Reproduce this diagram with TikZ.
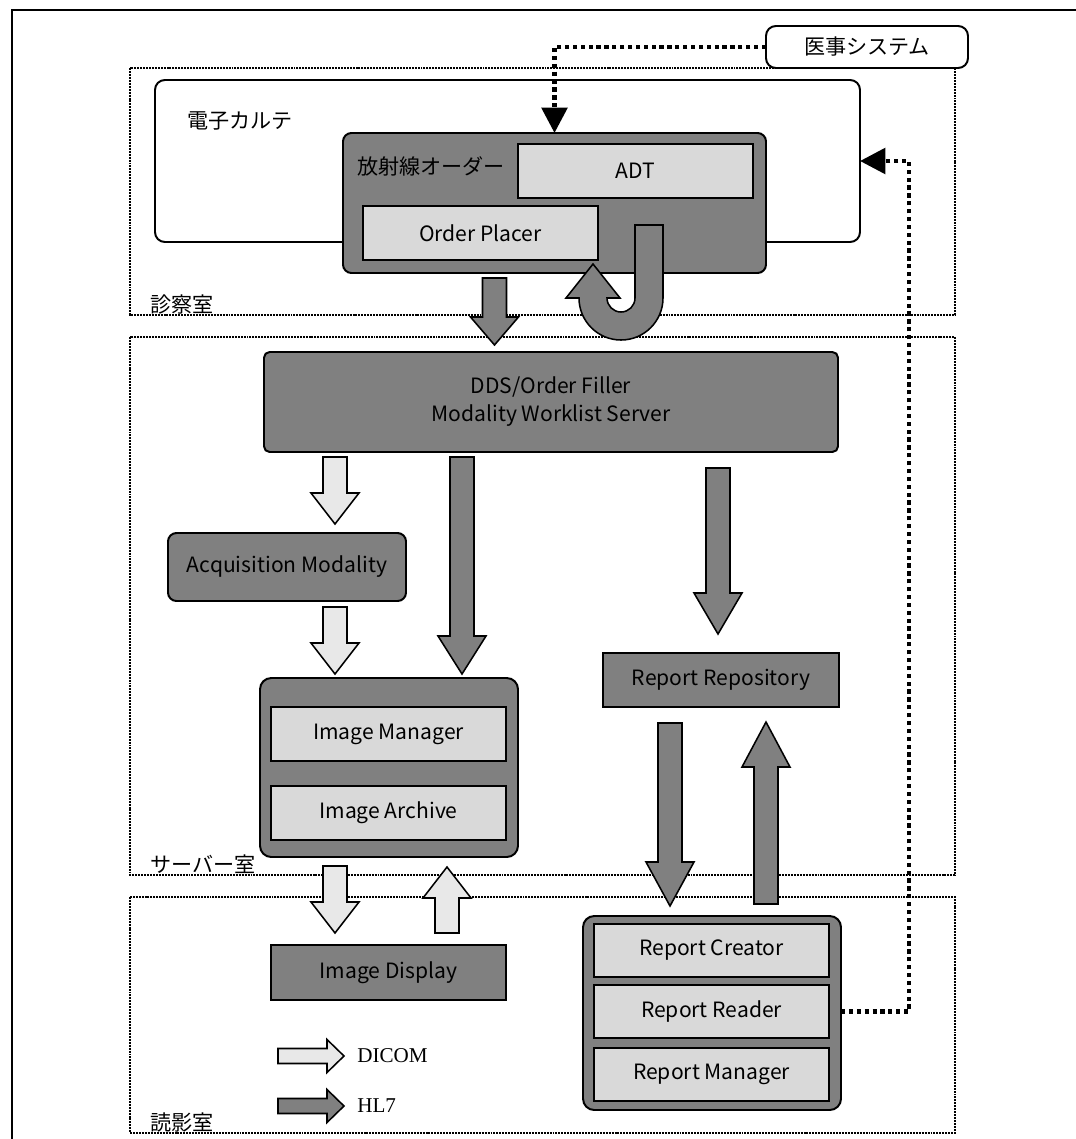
\documentclass[tikz,border=0pt]{standalone}
\usepackage{fontspec}
\setmainfont{Noto Sans CJK JP}
\newfontfamily\legendfont{Liberation Serif}
\usetikzlibrary{calc,arrows.meta}

\definecolor{boxgray}{HTML}{808080}
\definecolor{partgray}{HTML}{D9D9D9}
\definecolor{dicomgray}{HTML}{E8E8E8}

\newlength\pxu
\setlength\pxu{0.025cm}
\newcommand{\pxpt}{0.7113pt}
\newcommand{\shafthalf}{12*\pxpt}
\newcommand{\headhalf}{24*\pxpt}

% block arrow: [style]{from}{to}{head length in px}
\newcommand{\blockarrow}[4][]{%
  \coordinate (hb) at ($(#3)!#4*\pxpt!(#2)$);
  \filldraw[hlseven,#1] ($(#2)!\shafthalf!90:(#3)$) -- ($(hb)!\shafthalf!90:(#3)$)
    -- ($(hb)!\headhalf!90:(#3)$) -- (#3) -- ($(hb)!\headhalf!-90:(#3)$)
    -- ($(hb)!\shafthalf!-90:(#3)$) -- ($(#2)!\shafthalf!-90:(#3)$) -- cycle;
}

\tikzset{
  room/.style={draw, line width=1.4pt, dash pattern=on 1.4pt off 0.7pt},
  roomlabel/.style={anchor=base west, inner sep=0pt},
  whitebox/.style={draw, fill=white, line width=1.4pt, rounded corners=7pt, inner sep=0pt, outer sep=0pt},
  darkbox/.style={draw, fill=boxgray, line width=1.4pt, rounded corners=6pt, inner sep=0pt, outer sep=0pt},
  flatbox/.style={draw, fill=boxgray, line width=1.4pt, inner sep=0pt, outer sep=0pt},
  partbox/.style={draw, fill=partgray, line width=1.8pt, inner sep=0pt, outer sep=0pt,
    minimum width=235\pxu, minimum height=54\pxu},
  hisline/.style={line width=3.2pt, dash pattern=on 3pt off 2.6pt, -{Triangle[length=18pt,width=18pt]}},
  hlseven/.style={draw, fill=boxgray, line width=1.1pt, line join=miter},
  dicom/.style={fill=dicomgray},
}

\begin{document}
\begin{tikzpicture}[x=0.025cm, y=-0.025cm, font=\fontsize{15}{20}\selectfont]
  \useasboundingbox (0,0) rectangle (1076,1139);
  \draw[line width=1pt] (1080,10) -- (12,10) -- (12,1145);

  % rooms
  \draw[room] (130,68) rectangle (955,315);
  \draw[room] (130,337) rectangle (955,875);
  \draw[room] (130,897) rectangle (955,1133);
  \node[roomlabel] (shinlbl) at (150,312) {診察室};
  \node[roomlabel] (servlbl) at (150,872) {サーバー室};
  \node[roomlabel] (dokulbl) at (150,1130) {読影室};

  % 診察室
  \node[whitebox, minimum width=202\pxu, minimum height=42\pxu] (iji) at (867,47) {医事システム};
  \node[whitebox, minimum width=705\pxu, minimum height=162\pxu] (karte) at (507.5,161) {};
  \node[anchor=west, inner sep=0pt] (kartelbl) at (187,121) {電子カルテ};
  \node[darkbox, minimum width=423\pxu, minimum height=140\pxu] (order) at (554.5,203) {};
  \node[anchor=west, inner sep=0pt] (orderlbl) at (357,166) {放射線オーダー};
  \node[partbox] (adt) at (635.5,171) {ADT};
  \node[partbox] (placer) at (480.5,233) {Order Placer};

  % サーバー室
  \node[darkbox, rounded corners=4pt, minimum width=574\pxu, minimum height=100\pxu, align=center] (dds) at (551,402)
    {DDS/Order Filler\\Modality Worklist Server};
  \node[darkbox, minimum width=238\pxu, minimum height=68\pxu] (acq) at (287,567) {Acquisition Modality};
  \node[darkbox, rounded corners=8pt, minimum width=258\pxu, minimum height=179\pxu] (imgbox) at (389,767.5) {};
  \node[partbox] (imgmgr) at (388.5,734) {Image Manager};
  \node[partbox] (imgarc) at (388.5,813) {Image Archive};
  \node[flatbox, minimum width=236\pxu, minimum height=54\pxu] (repo) at (721,680) {Report Repository};

  % 読影室
  \node[flatbox, minimum width=235\pxu, minimum height=55\pxu] (display) at (388.5,972.5) {Image Display};
  \node[darkbox, rounded corners=8pt, minimum width=258\pxu, minimum height=194\pxu] (rptbox) at (712,1013) {};
  \node[partbox, minimum height=53\pxu] (creator) at (711.5,950.5) {Report Creator};
  \node[partbox, minimum height=53\pxu] (reader) at (711.5,1011.5) {Report Reader};
  \node[partbox, minimum height=53\pxu] (rmgr) at (711.5,1074.5) {Report Manager};

  % legend
  \node[anchor=west, inner sep=0pt, font=\legendfont\fontsize{15}{18}\selectfont] (dicomlbl) at (357,1056) {DICOM};
  \node[anchor=west, inner sep=0pt, font=\legendfont\fontsize{15}{18}\selectfont] (hl7lbl) at (357,1106) {HL7};

  % columns of the block arrows
  \coordinate (colA) at (335,0);
  \coordinate (colB) at (462,0);
  \coordinate (colC) at (718,0);
  \coordinate (colD) at (447,0);
  \coordinate (colE) at (670,0);
  \coordinate (colF) at (766,0);
  \coordinate (colO) at (494.5,0);
  \coordinate (hiscol) at (909,0);

  % HL7 / DICOM arrows
  \blockarrow{$(order.south -| colO)+(0,5)$}{$(dds.north -| colO)+(0,-7)$}{28}
  \blockarrow[dicom]{$(dds.south -| colA)+(0,5)$}{$(acq.north -| colA)+(0,-9)$}{31}
  \blockarrow{$(dds.south -| colB)+(0,5)$}{$(imgbox.north -| colB)+(0,-4)$}{38}
  \blockarrow{$(dds.south -| colC)+(0,16)$}{$(repo.north -| colC)+(0,-19)$}{41}
  \blockarrow[dicom]{$(acq.south -| colA)+(0,6)$}{$(imgbox.north -| colA)+(0,-4)$}{31}
  \blockarrow[dicom]{$(imgbox.south -| colA)+(0,9)$}{$(display.north -| colA)+(0,-12)$}{31}
  \blockarrow[dicom]{$(display.north -| colD)+(0,-12)$}{$(imgbox.south -| colD)+(0,10)$}{31}
  \blockarrow{$(repo.south -| colE)+(0,16)$}{$(rptbox.north -| colE)+(0,-10)$}{44}
  \blockarrow{$(rptbox.north -| colF)+(0,-12)$}{$(repo.south -| colF)+(0,15)$}{45}

  % ADT -> Order Placer
  \filldraw[hlseven] (635,225) -- (663,225) -- (663,298) arc[start angle=0, end angle=180, radius=42]
    -- (566,298) -- (593,264) -- (620,298) -- (607,298) arc[start angle=180, end angle=0, radius=14] -- cycle;

  % legend arrows
  \renewcommand{\shafthalf}{7.5*\pxpt}
  \renewcommand{\headhalf}{16.5*\pxpt}
  \blockarrow[dicom]{$(dicomlbl.west)+(-79,0)$}{$(dicomlbl.west)+(-13,0)$}{17}
  \blockarrow{$(hl7lbl.west)+(-79,0)$}{$(hl7lbl.west)+(-13,0)$}{17}

  % dashed links
  \draw[hisline] (iji.west) -| (order.north);
  \draw[hisline] (rptbox.east |- reader.east) -| (hiscol |- karte.east) -- (karte.east);
\end{tikzpicture}
\end{document}
